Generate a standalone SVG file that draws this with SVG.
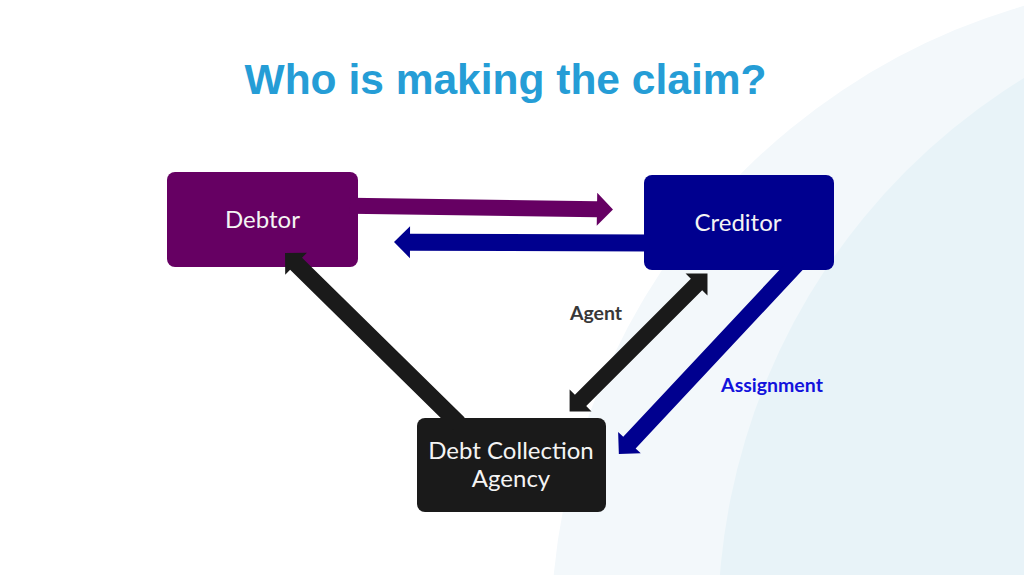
<svg xmlns="http://www.w3.org/2000/svg" width="1024" height="575" viewBox="0 0 1024 575">
  <style>
    .node-text { font-family: Lato, "Liberation Sans", sans-serif; font-size: 24px; fill: #f4f4f4; text-anchor: middle; }
    .edge-label { font-family: Lato, "Liberation Sans", sans-serif; font-weight: bold; font-size: 19.5px; text-anchor: middle; }
    .title { font-family: "Liberation Sans", Arial, sans-serif; font-weight: bold; font-size: 42.5px; fill: #259dd6; text-anchor: middle; }
  </style>
  <rect x="0" y="0" width="1024" height="575" fill="#ffffff"/>
  <g id="background">
    <circle cx="1206" cy="635" r="655" fill="#f3f8fb"/>
    <circle cx="1360" cy="625" r="642" fill="#e8f3f8"/>
  </g>
  <text class="title" x="505.5" y="94">Who is making the claim?</text>

  <g id="debtor">
    <rect x="167" y="172" width="191" height="95" rx="8" fill="#660063"/>
    <text class="node-text" x="262.5" y="228">Debtor</text>
  </g>
  <g id="creditor">
    <rect x="644" y="175" width="190" height="95" rx="8" fill="#00008f"/>
    <text class="node-text" x="738" y="231">Creditor</text>
  </g>
  <g id="agency">
    <rect x="417" y="418" width="189" height="94" rx="8" fill="#1a1a1a"/>
    <text class="node-text" x="511" y="459">Debt Collection</text>
    <text class="node-text" x="511" y="487">Agency</text>
  </g>

  <g id="connectors">
    <polygon fill="#660063" transform="translate(350,205.7) rotate(0.85)" points="0,-8 247,-8 247,-16.5 263,0 247,16.5 247,8 0,8"/>
    <polygon fill="#00008f" transform="translate(650,243) rotate(180.2)" points="0,-8.5 240,-8.5 240,-16 256,0 240,16 240,8.5 0,8.5"/>
    <polygon fill="#1a1a1a" transform="translate(458.7,423.6) rotate(-135.5)" points="0,-8.5 228,-8.5 228,-15.5 243.5,0 228,15.5 228,8.5 0,8.5"/>
    <polygon fill="#1a1a1a" transform="translate(569.6,411.4) rotate(-45)" points="0,0 15.5,-15.5 15.5,-8 179.5,-8 179.5,-15.5 195,0 179.5,15.5 179.5,8 15.5,8 15.5,15.5"/>
    <polygon fill="#00008f" transform="translate(797.8,262.7) rotate(133.1)" points="0,-8.5 246.4,-8.5 246.4,-15.5 261.9,0 246.4,15.5 246.4,8.5 0,8.5"/>
    <text class="edge-label" x="596" y="320" fill="#383838" font-size="18.5">Agent</text>
    <text class="edge-label" x="772" y="392" fill="#1212dc">Assignment</text>
  </g>
</svg>
